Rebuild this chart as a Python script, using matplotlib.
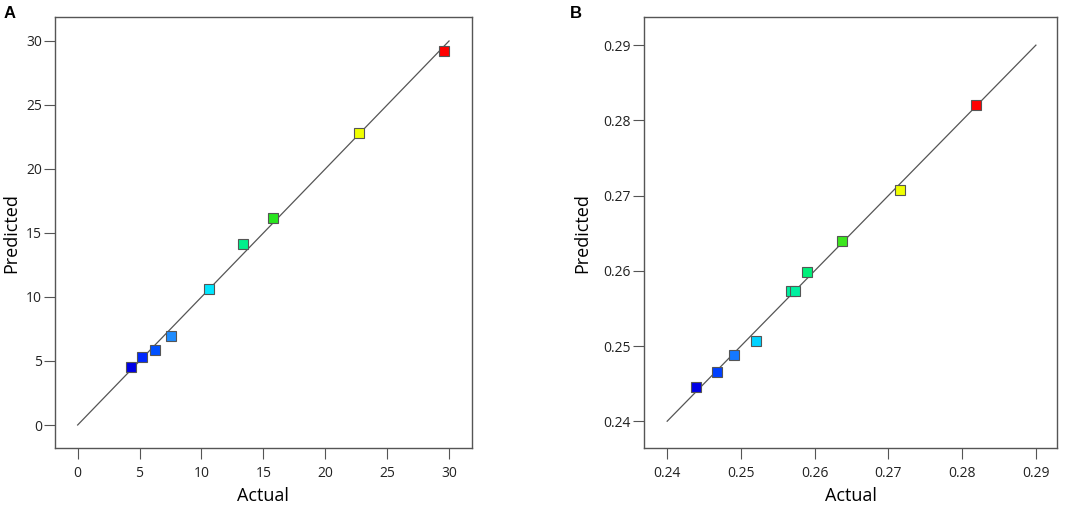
import matplotlib
matplotlib.use('Agg')
import matplotlib.pyplot as plt

plt.rcParams['font.family'] = ['Open Sans', 'DejaVu Sans']

# Панель A
actual_a = [4.28, 5.16, 6.24, 7.53, 10.62, 13.37, 15.76, 22.76, 29.57]
predicted_a = [4.56, 5.29, 5.86, 6.93, 10.63, 14.14, 16.15, 22.79, 29.24]
colors_a = ['#0000e6', '#0028ff', '#0050ff', '#1e8cff', '#00e6ff',
            '#00f08c', '#28e61e', '#f0ff00', '#ff0000']
ticks_a = [0, 5, 10, 15, 20, 25, 30]
labels_a = ['0', '5', '10', '15', '20', '25', '30']

# Панель B
actual_b = [0.2439, 0.2468, 0.2490, 0.2520, 0.2568, 0.2574, 0.2589, 0.2637, 0.2716, 0.2819]
predicted_b = [0.2445, 0.2465, 0.2488, 0.2507, 0.2573, 0.2573, 0.2598, 0.2640, 0.2708, 0.2820]
colors_b = ['#0000e6', '#0040ff', '#1478ff', '#00d2ff', '#00f0a0',
            '#00f0a0', '#00f07a', '#3ce61e', '#f0ff00', '#ff0000']
ticks_b = [0.24, 0.25, 0.26, 0.27, 0.28, 0.29]
labels_b = ['0.24', '0.25', '0.26', '0.27', '0.28', '0.29']


def draw_panel(ax, x, y, colors, ticks, labels, xlim, ylim, ypad):
    """Рисует график Predicted vs Actual."""
    ax.plot([ticks[0], ticks[-1]], [ticks[0], ticks[-1]], color='#555555', lw=0.9, zorder=2)
    for xi, yi, c in zip(x, y, colors):
        ax.plot(xi, yi, marker='s', ms=7, mfc=c, mec='#555555', mew=0.8, ls='none', zorder=3)
    ax.set_xlim(xlim)
    ax.set_ylim(ylim)
    ax.set_xticks(ticks)
    ax.set_yticks(ticks)
    ax.set_xticklabels(labels)
    ax.set_yticklabels(labels)
    ax.tick_params(direction='out', length=8, width=0.8, color='#555555',
                   labelsize=10, labelcolor='#222222')
    ax.tick_params(axis='x', pad=5)
    ax.tick_params(axis='y', pad=1.5)
    for s in ax.spines.values():
        s.set_color('#555555')
        s.set_linewidth(1.0)
    ax.set_xlabel('Actual', fontsize=13, labelpad=4)
    ax.set_ylabel('Predicted', fontsize=13, labelpad=ypad)


fig = plt.figure(figsize=(10.84, 5.09), dpi=100)
ax1 = fig.add_axes([55 / 1084, 1 - 448.3 / 509, 416.7 / 1084, 431 / 509])
ax2 = fig.add_axes([644.3 / 1084, 1 - 448.3 / 509, 413 / 1084, 431 / 509])

draw_panel(ax1, actual_a, predicted_a, colors_a, ticks_a, labels_a, (-1.83, 31.83), (-1.82, 31.85), 4)
draw_panel(ax2, actual_b, predicted_b, colors_b, ticks_b, labels_b, (0.2369, 0.2929), (0.2364, 0.2937), 9)

fig.text(4 / 1084, 1 - 13 / 509, 'A', fontsize=12, fontweight='bold',
         family='Liberation Sans', va='center')
fig.text(570 / 1084, 1 - 13 / 509, 'B', fontsize=12, fontweight='bold',
         family='Liberation Sans', va='center')

fig.savefig('out.png', dpi=100)
